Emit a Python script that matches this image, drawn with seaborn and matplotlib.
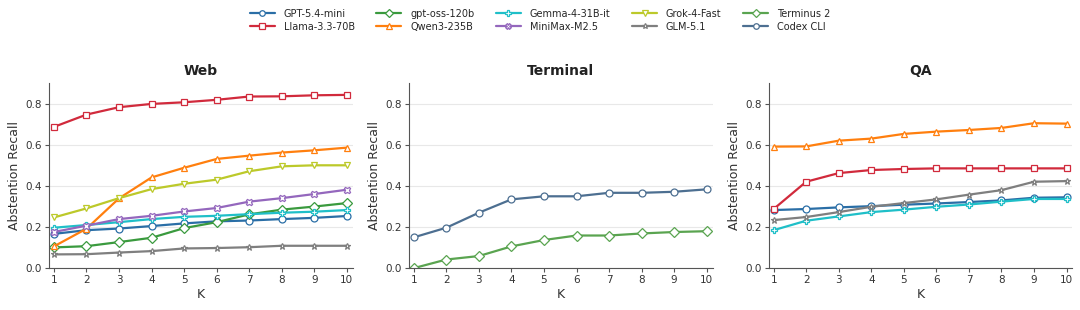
import pandas as pd
import matplotlib
matplotlib.use('Agg')
import matplotlib.pyplot as plt
import seaborn as sns

# K values shared by all panels
k_values = list(range(1, 11))

# Web panel
web_gpt54mini = [0.167, 0.185, 0.193, 0.205, 0.218, 0.228, 0.232, 0.239, 0.245, 0.254]
web_llama = [0.688, 0.748, 0.784, 0.800, 0.808, 0.820, 0.836, 0.837, 0.842, 0.844]
web_gptoss = [0.101, 0.107, 0.127, 0.148, 0.195, 0.224, 0.262, 0.285, 0.300, 0.317]
web_qwen = [0.106, 0.192, 0.340, 0.442, 0.489, 0.532, 0.548, 0.563, 0.574, 0.587]
web_gemma = [0.197, 0.210, 0.224, 0.239, 0.250, 0.255, 0.263, 0.270, 0.275, 0.283]
web_minimax = [0.176, 0.207, 0.239, 0.255, 0.276, 0.293, 0.324, 0.341, 0.361, 0.382]
web_grok = [0.247, 0.291, 0.341, 0.385, 0.411, 0.431, 0.472, 0.496, 0.501, 0.501]
web_glm = [0.067, 0.068, 0.076, 0.083, 0.096, 0.098, 0.102, 0.109, 0.109, 0.109]

# Terminal panel
term_terminus = [0.000, 0.042, 0.059, 0.106, 0.137, 0.159, 0.159, 0.169, 0.176, 0.180]
term_codex = [0.150, 0.197, 0.270, 0.335, 0.350, 0.350, 0.367, 0.367, 0.372, 0.384]

# QA panel
qa_gpt54mini = [0.283, 0.288, 0.296, 0.302, 0.309, 0.315, 0.322, 0.330, 0.343, 0.345]
qa_llama = [0.288, 0.421, 0.463, 0.478, 0.483, 0.486, 0.486, 0.486, 0.486, 0.486]
qa_qwen = [0.592, 0.593, 0.621, 0.631, 0.654, 0.665, 0.673, 0.683, 0.706, 0.704]
qa_gemma = [0.185, 0.231, 0.252, 0.273, 0.285, 0.299, 0.310, 0.324, 0.337, 0.337]
qa_glm = [0.234, 0.249, 0.273, 0.299, 0.317, 0.335, 0.358, 0.380, 0.421, 0.424]

panels = {
    'Web': {
        'GPT-5.4-mini': web_gpt54mini,
        'Llama-3.3-70B': web_llama,
        'gpt-oss-120b': web_gptoss,
        'Qwen3-235B': web_qwen,
        'Gemma-4-31B-it': web_gemma,
        'MiniMax-M2.5': web_minimax,
        'Grok-4-Fast': web_grok,
        'GLM-5.1': web_glm,
    },
    'Terminal': {
        'Terminus 2': term_terminus,
        'Codex CLI': term_codex,
    },
    'QA': {
        'GPT-5.4-mini': qa_gpt54mini,
        'Llama-3.3-70B': qa_llama,
        'Qwen3-235B': qa_qwen,
        'Gemma-4-31B-it': qa_gemma,
        'GLM-5.1': qa_glm,
    },
}

model_order = ['GPT-5.4-mini', 'Llama-3.3-70B', 'gpt-oss-120b', 'Qwen3-235B', 'Gemma-4-31B-it',
               'MiniMax-M2.5', 'Grok-4-Fast', 'GLM-5.1', 'Terminus 2', 'Codex CLI']
colors = {
    'GPT-5.4-mini': '#2a6ea6',
    'Llama-3.3-70B': '#d12a3c',
    'gpt-oss-120b': '#3a9a3e',
    'Qwen3-235B': '#ff7f0e',
    'Gemma-4-31B-it': '#1fbfc8',
    'MiniMax-M2.5': '#9467bd',
    'Grok-4-Fast': '#bcc92a',
    'GLM-5.1': '#7f7f7f',
    'Terminus 2': '#5aa450',
    'Codex CLI': '#4d6f91',
}
markers = {
    'GPT-5.4-mini': 'o',
    'Llama-3.3-70B': 's',
    'gpt-oss-120b': 'D',
    'Qwen3-235B': '^',
    'Gemma-4-31B-it': 'P',
    'MiniMax-M2.5': 'X',
    'Grok-4-Fast': 'v',
    'GLM-5.1': '*',
    'Terminus 2': 'D',
    'Codex CLI': 'o',
}

sns.set_style('ticks')
plt.rcParams['font.family'] = ['DejaVu Sans']

fig, axes = plt.subplots(1, 3, figsize=(10.8, 3.1), dpi=100)
fig.subplots_adjust(left=0.0454, right=0.993, bottom=0.135, top=0.731, wspace=0.185)

handles = {}
for ax, (title, series) in zip(axes, panels.items()):
    for model, vals in series.items():
        df = pd.DataFrame({'K': k_values, 'recall': vals})
        sns.lineplot(data=df, x='K', y='recall', ax=ax, color=colors[model], marker=markers[model],
                     markersize=5, markerfacecolor='white', markeredgecolor=colors[model],
                     markeredgewidth=0.9, linewidth=1.6, label=model, legend=False)
        handles[model] = ax.get_lines()[-1]
    ax.set_title(title, fontsize=10, fontweight='bold', pad=6, color='#222222')
    ax.set_xlim(0.85, 10.18)
    ax.set_ylim(0, 0.9)
    ax.set_xticks(k_values)
    ax.set_yticks([0.0, 0.2, 0.4, 0.6, 0.8])
    ax.tick_params(labelsize=7.5, length=3, width=0.8, pad=2, labelcolor='#333333', color='#555555')
    ax.set_xlabel('K', fontsize=9, labelpad=2, color='#333333')
    ax.set_ylabel('Abstention Recall', fontsize=9, labelpad=3, color='#333333')
    ax.yaxis.grid(True, color='#e8e8e8', linewidth=0.8)
    ax.set_axisbelow(True)
    sns.despine(ax=ax)
    for sp in ax.spines.values():
        sp.set_color('#555555')
        sp.set_linewidth(0.8)

fig.legend([handles[m] for m in model_order], model_order, loc='upper center',
           bbox_to_anchor=(0.5, 1.0), ncol=5, frameon=False, fontsize=7,
           handlelength=2.6, columnspacing=2.2, labelspacing=0.3, handletextpad=0.9,
           markerscale=0.8)

fig.savefig('out.png', dpi=100)
